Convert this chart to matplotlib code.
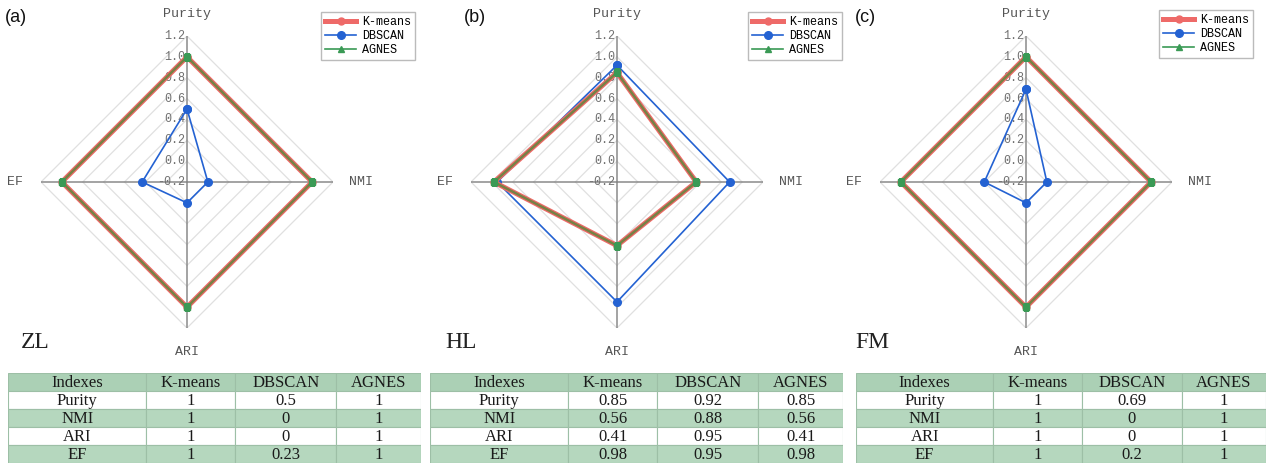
import numpy as np
import matplotlib
matplotlib.use("Agg")
import matplotlib.pyplot as plt
from matplotlib.patches import Rectangle
from matplotlib.lines import Line2D

# ---------------- data ----------------
indexes = ["Purity", "NMI", "ARI", "EF"]
methods = ["K-means", "DBSCAN", "AGNES"]
panel_tags = ["(a)", "(b)", "(c)"]
dataset_names = ["ZL", "HL", "FM"]

zl_kmeans = [1, 1, 1, 1]
zl_dbscan = [0.5, 0, 0, 0.23]
zl_agnes = [1, 1, 1, 1]

hl_kmeans = [0.85, 0.56, 0.41, 0.98]
hl_dbscan = [0.92, 0.88, 0.95, 0.95]
hl_agnes = [0.85, 0.56, 0.41, 0.98]

fm_kmeans = [1, 1, 1, 1]
fm_dbscan = [0.69, 0, 0, 0.2]
fm_agnes = [1, 1, 1, 1]

radial_ticks = [-0.2, 0.0, 0.2, 0.4, 0.6, 0.8, 1.0, 1.2]

panels = [
    (zl_kmeans, zl_dbscan, zl_agnes),
    (hl_kmeans, hl_dbscan, hl_agnes),
    (fm_kmeans, fm_dbscan, fm_agnes),
]

# ---------------- layout ----------------
W, H = 1271, 473
fig = plt.figure(figsize=(W / 100, H / 100), dpi=100)

def fx(x):
    return x / W

def fy(y):
    return 1 - y / H

centers_x = [187, 617, 1026]
center_y = 182
R = 146
legend_corners = [(415, 12), (842, 12), (1253, 10)]
tag_pos = [(5, 17), (464, 17), (855, 17)]
name_pos = [(21, 348), (445, 348), (855, 348)]
table_boxes = [(8, 421), (430, 843), (856, 1266)]
table_top, table_bot = 373, 463
col_frac = [0.335, 0.215, 0.245, 0.205]

mono = "Liberation Mono"
serif = "Liberation Serif"
sans = "Liberation Sans"

red = "#ee6a68"
blue = "#2462d2"
green = "#3a9a55"
header_green = "#abd0b5"
row_green = "#b5d7be"

theta = np.deg2rad([0, 90, 180, 270])
theta_closed = np.append(theta, theta[0])
rmin, rmax = radial_ticks[0], radial_ticks[-1]

for i, (km, db, ag) in enumerate(panels):
    cx = centers_x[i]
    ax = fig.add_axes([fx(cx - R), fy(center_y + R), 2 * R / W, 2 * R / H],
                      projection="polar")
    ax.set_theta_offset(np.pi / 2)
    ax.set_theta_direction(-1)
    ax.set_ylim(rmin, rmax)
    ax.grid(False)
    ax.set_xticks([])
    ax.set_yticks([])
    ax.spines["polar"].set_visible(False)
    ax.patch.set_visible(False)

    # diamond grid
    for r in radial_ticks[1:]:
        ax.plot(theta_closed, [r] * 5, color="#e0e0e0", lw=0.9, zorder=1)
    # axis spokes
    for t in theta:
        ax.plot([t, t], [rmin, rmax], color="#8a8a8a", lw=1.1, zorder=2)
    # radial labels
    for r in radial_ticks:
        ax.annotate(f"{r:.1f}", xy=(0, r), xytext=(-1, 0),
                    textcoords="offset points", ha="right", va="center",
                    fontsize=8.5, family=mono, color="#707070", zorder=3)

    vals = lambda v: np.append(np.array(v, float), v[0])
    ax.plot(theta_closed, vals(db), color=blue, lw=1.2, marker="o", ms=5.5,
            zorder=4, label=methods[1])
    ax.plot(theta_closed, vals(km), color=red, lw=3.6, marker="o", ms=5,
            zorder=5, label=methods[0])
    ax.plot(theta_closed, vals(ag), color="#4e8a3a", lw=1.8, marker="^", ms=5,
            alpha=0.75, zorder=6, label=methods[2])
    ax.plot(theta, np.array(ag, float), color=green, lw=0, marker="s", ms=4.5,
            zorder=7)

    # axis labels
    aligns = [("center", "center"), ("left", "center"), ("center", "center"), ("right", "center")]
    lab_px = [168, 162, 170, 164]
    for t, name, (ha, va), px in zip(theta, indexes, aligns, lab_px):
        rr = rmin + px / R * (rmax - rmin)
        ax.text(t, rr, name, ha=ha, va=va, fontsize=9.5, family=mono,
                color="#555555", clip_on=False)

    # legend
    handles = [
        Line2D([], [], color=red, lw=3.6, marker="o", ms=5),
        Line2D([], [], color=blue, lw=1.2, marker="o", ms=5.5),
        Line2D([], [], color=green, lw=1.2, marker="^", ms=4.5),
    ]
    lx, ly = legend_corners[i]
    fig.legend(handles, methods, loc="upper right", bbox_to_anchor=(fx(lx), fy(ly)),
               prop={"family": mono, "size": 8.5}, frameon=True, fancybox=False,
               edgecolor="#aaaaaa", handlelength=2.6, handletextpad=0.5,
               borderpad=0.35, labelspacing=0.15, borderaxespad=0)

    # panel tag and dataset name
    tx, ty = tag_pos[i]
    fig.text(fx(tx), fy(ty), panel_tags[i], fontsize=13, family=sans,
             ha="left", va="center", color="#111111")
    nx, ny = name_pos[i]
    fig.text(fx(nx), fy(ny), dataset_names[i], fontsize=17, family=serif,
             ha="left", va="baseline", color="#222222")

    # table
    x0, x1 = table_boxes[i]
    tax = fig.add_axes([fx(x0), fy(table_bot), (x1 - x0) / W, (table_bot - table_top) / H])
    tax.set_xlim(0, 1)
    tax.set_ylim(5, 0)
    tax.axis("off")
    header = ["Indexes"] + methods
    rows = [[indexes[k], f"{km[k]:g}", f"{db[k]:g}", f"{ag[k]:g}"] for k in range(4)]
    edges = np.concatenate([[0], np.cumsum(col_frac)])
    for r_i, row in enumerate([header] + rows):
        fc = header_green if r_i == 0 else (row_green if r_i % 2 == 0 else "white")
        for c_i, txt in enumerate(row):
            tax.add_patch(Rectangle((edges[c_i], r_i), edges[c_i + 1] - edges[c_i], 1,
                                    facecolor=fc, edgecolor="#9dbfa6", lw=0.8))
            tax.text((edges[c_i] + edges[c_i + 1]) / 2, r_i + 0.55, txt,
                     ha="center", va="center", fontsize=12, family=serif,
                     color="#1a1a1a")

fig.savefig("out.png", dpi=100)
